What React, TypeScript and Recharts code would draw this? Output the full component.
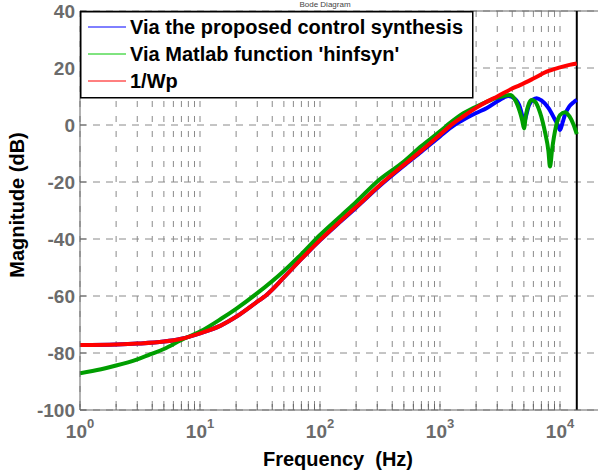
import React from 'react';
import { LineChart, Line, XAxis, YAxis, CartesianGrid, ReferenceLine } from 'recharts';

// Bode magnitude (dB), per series
const blueFreq = [1, 2, 3, 5, 7, 10, 15, 20, 30, 35, 50, 70, 100, 150, 200, 337, 500, 700, 1000, 1290, 1500, 2000, 2460, 3000, 3400, 3700, 4200, 4640, 4850, 5010, 5200, 5500, 6000, 6390, 7000, 8000, 9000, 9600, 10000, 10500, 11000, 12000, 13000, 13800];
const blueMag = [-77.2, -77.0, -76.7, -76.0, -75.0, -73.1, -70.3, -67.3, -62.0, -60.0, -53.5, -47.0, -40.5, -33.7, -29.0, -20.3, -14.3, -9.4, -4.0, -0.3, 1.4, 4.2, 6.0, 8.3, 9.6, 10.2, 9.2, 6.2, 3.2, 0.6, 3.0, 6.8, 9.0, 9.4, 8.6, 6.0, 2.2, 0.0, -1.75, 0.8, 3.6, 6.6, 8.0, 8.8];

const greenFreq = [1, 1.5, 2, 3, 4, 5, 7, 10, 15, 20, 30, 50, 70, 100, 150, 200, 300, 500, 700, 1000, 1290, 1500, 2000, 2500, 3000, 3400, 3830, 4200, 4640, 4850, 5010, 5200, 5500, 5810, 6200, 6800, 7500, 8000, 8254, 8600, 9200, 10000, 11000, 12000, 13000, 13800];
const greenMag = [-87.1, -85.7, -84.4, -82.2, -80.2, -78.6, -75.4, -72.5, -68.0, -64.5, -59.0, -51.2, -45.3, -38.6, -31.8, -27.0, -19.8, -12.8, -7.4, -2.2, 1.6, 3.6, 6.4, 8.3, 9.6, 10.2, 10.5, 9.0, 4.5, 1.5, -1.2, 3.5, 7.5, 8.8, 8.2, 4.5, -2.5, -9.0, -14.6, -8.5, -1.0, 3.5, 4.5, 3.0, 0.0, -3.2];

const redFreq = [1, 2, 3, 5, 7, 10, 15, 20, 30, 35, 50, 70, 100, 150, 200, 337, 500, 700, 1000, 1290, 1500, 2000, 2460, 3000, 4000, 4640, 6000, 7743, 10000, 12000, 13800];
const redMag = [-77.2, -77.0, -76.7, -76.0, -75.0, -73.1, -70.3, -67.3, -62.0, -60.0, -53.5, -47.0, -40.4, -33.5, -28.8, -20.0, -14.0, -9.0, -3.4, 0.6, 2.5, 6.0, 8.2, 10.0, 12.8, 14.0, 16.3, 18.7, 20.2, 21.1, 21.6];

const seriesNames = ['Via the proposed control synthesis', "Via Matlab function 'hinfsyn'", '1/Wp'];
const seriesColors = ['#0000ff', '#009e00', '#ff0000'];
const legendColors = ['#0000ff', '#00c800', '#ff0000'];

const decadeTicks = [1, 10, 100, 1000, 10000];
const minorSteps = [2, 3, 4, 5, 6, 7, 8, 9];
const yTicks = [-100, -80, -60, -40, -20, 0, 20, 40];
const nyquistHz = 13800;

const xTicks: number[] = [];
decadeTicks.forEach((d, i) => {
  xTicks.push(d);
  if (i < decadeTicks.length - 1) minorSteps.forEach((m) => xTicks.push(d * m));
});

const toRows = (f: number[], m: number[]) => f.map((v, i) => ({ f: v, mag: m[i] }));
const blueData = toRows(blueFreq, blueMag);
const greenData = toRows(greenFreq, greenMag);
const redData = toRows(redFreq, redMag);

const FONT = '"Liberation Sans", Arial, Helvetica, sans-serif';
const W = 620;
const H = 475;

const XTick = (props: any) => {
  const { x, y, payload } = props;
  const lg = Math.log10(payload.value);
  const exp = Math.round(lg);
  const isDecade = Math.abs(lg - exp) < 1e-6;
  return (
    <g>
      <line x1={x} x2={x} y1={y} y2={y - 6} stroke="#666" />
      {isDecade && (
        <text x={x} y={y + 28} textAnchor="middle" fill="#6b6b6b" fontFamily={FONT} fontWeight="bold" fontSize={19}>
          <tspan>10</tspan>
          <tspan dy={-10} fontSize={13}>{exp}</tspan>
        </text>
      )}
    </g>
  );
};

const YTick = (props: any) => {
  const { x, y, payload } = props;
  return (
    <g>
      <line x1={x} x2={x + 6} y1={y} y2={y} stroke="#666" />
      <text x={x - 5} y={y + 7} textAnchor="end" fill="#6b6b6b" fontFamily={FONT} fontWeight="bold" fontSize={19}>
        {payload.value}
      </text>
    </g>
  );
};

const rowY = [16, 43, 70];

export default function App() {
  return (
    <div style={{ position: 'absolute', left: 0, top: 0, width: 598, height: 475, overflow: 'hidden', background: '#fff' }}>
      <div style={{ position: 'relative', width: W, height: H }}>
        <LineChart width={W} height={H} margin={{ top: 11, right: 0, left: 0, bottom: 0 }}>
          <CartesianGrid horizontal={false} stroke="#8a8a8a" strokeDasharray="6 9" />
          <CartesianGrid vertical={false} stroke="#8a8a8a" strokeDasharray="7 6" />
          <XAxis
            dataKey="f"
            type="number"
            scale="log"
            domain={[1, Math.pow(10, 4.5)]}
            ticks={xTicks}
            interval={0}
            allowDataOverflow
            height={65}
            tickSize={0}
            tickMargin={0}
            tickLine={false}
            axisLine={{ stroke: '#666' }}
            tick={<XTick />}
          />
          <YAxis
            type="number"
            domain={[-100, 40]}
            ticks={yTicks}
            interval={0}
            width={80}
            tickSize={0}
            tickMargin={0}
            tickLine={false}
            axisLine={{ stroke: '#666' }}
            tick={<YTick />}
          />
          <ReferenceLine y={40} stroke="#666" />
          <ReferenceLine x={nyquistHz} stroke="#000" strokeWidth={2} />
          <Line data={blueData} dataKey="mag" name={seriesNames[0]} stroke={seriesColors[0]} strokeWidth={4} dot={false} type="monotone" isAnimationActive={false} />
          <Line data={greenData} dataKey="mag" name={seriesNames[1]} stroke={seriesColors[1]} strokeWidth={4} dot={false} type="monotone" isAnimationActive={false} />
          <Line data={redData} dataKey="mag" name={seriesNames[2]} stroke={seriesColors[2]} strokeWidth={4} dot={false} type="monotone" isAnimationActive={false} />
        </LineChart>

        <svg width={W} height={H} style={{ position: 'absolute', left: 0, top: 0, pointerEvents: 'none' }}>
          <text x={325} y={7} textAnchor="middle" fontFamily={FONT} fontSize={8} fill="#444">Bode Diagram</text>
          <text x={338} y={466} textAnchor="middle" fontFamily={FONT} fontWeight="bold" fontSize={20} fill="#000" style={{ whiteSpace: 'pre' }}>
            {'Frequency  (Hz)'}
          </text>
          <text
            transform="translate(24,205) rotate(-90)"
            textAnchor="middle"
            fontFamily={FONT}
            fontWeight="bold"
            fontSize={20}
            fill="#000"
          >
            Magnitude (dB)
          </text>
          <g transform="translate(80,11)">
            <rect x={0.75} y={0.75} width={392} height={86} fill="#fff" stroke="#000" strokeWidth={1.5} />
            {seriesNames.map((n, i) => (
              <g key={n}>
                <line x1={8} x2={46} y1={rowY[i]} y2={rowY[i]} stroke={legendColors[i]} strokeWidth={1} />
                <text x={50} y={rowY[i] + 7} fontFamily={FONT} fontWeight="bold" fontSize={20} fill="#000">{n}</text>
              </g>
            ))}
          </g>
        </svg>
      </div>
    </div>
  );
}
